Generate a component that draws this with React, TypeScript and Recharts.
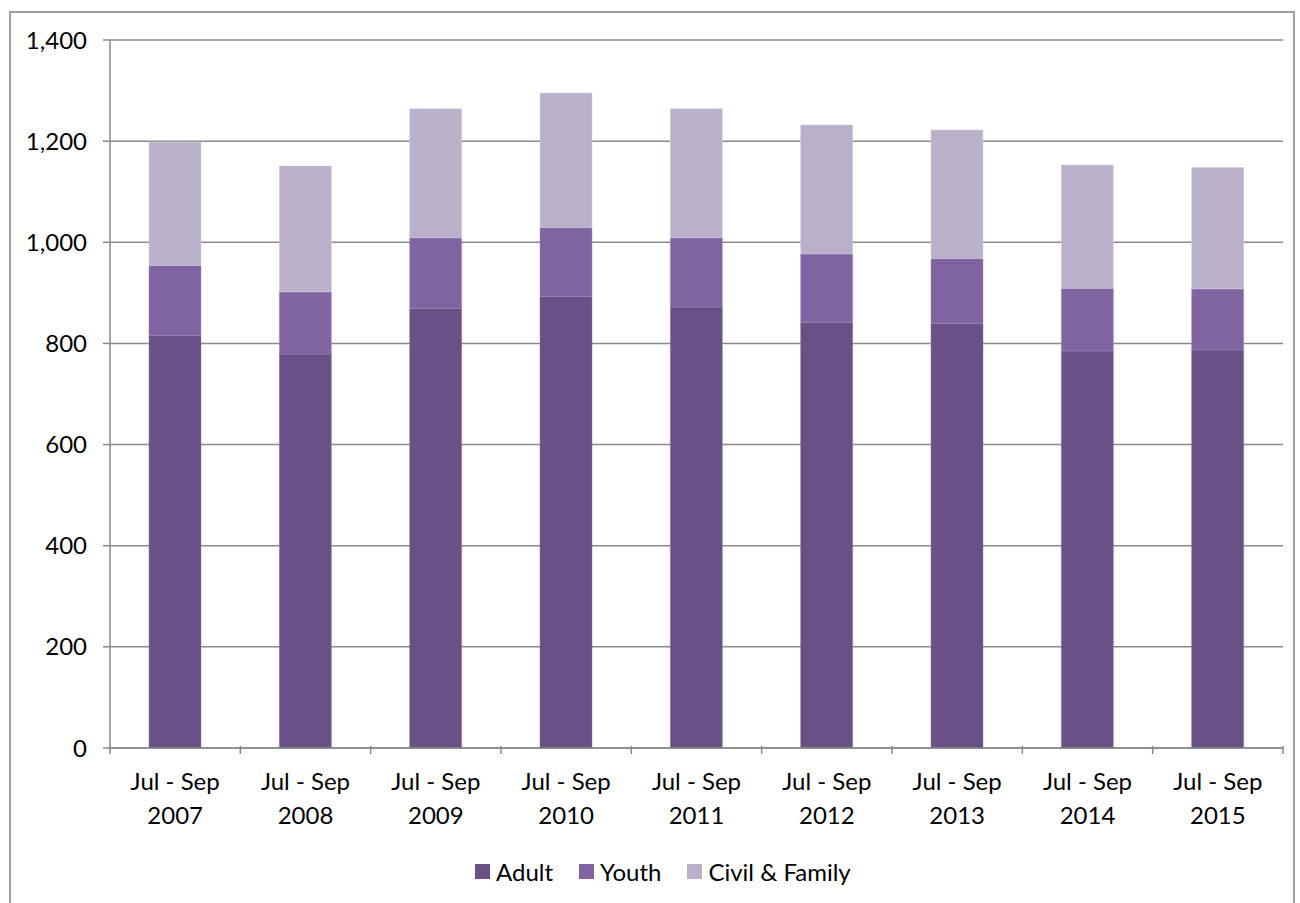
import React from "react";
import { BarChart, Bar, XAxis, YAxis, CartesianGrid, Legend } from "recharts";

const periods = ["Jul - Sep|2007", "Jul - Sep|2008", "Jul - Sep|2009", "Jul - Sep|2010", "Jul - Sep|2011", "Jul - Sep|2012", "Jul - Sep|2013", "Jul - Sep|2014", "Jul - Sep|2015"];
const adult = [816, 779, 869, 893, 872, 842, 840, 785, 787];
const youth = [138, 123, 140, 136, 137, 135, 128, 124, 121];
const civilFamily = [244, 249, 255, 266, 255, 255, 254, 244, 240];
const yTicks = [0, 200, 400, 600, 800, 1000, 1200, 1400];
const seriesNames = ["Adult", "Youth", "Civil & Family"];
const seriesColors = ["#6a5185", "#8064a2", "#bab0c9"];

const data = periods.map((p, i) => ({ period: p, adult: adult[i], youth: youth[i], civil: civilFamily[i] }));

const FONT = "Lato, 'Open Sans', sans-serif";
const FS = 24;
const W = 1300;
const H = 903;
const M = { top: 40, right: 17, left: 0, bottom: 0 };
const Y_W = 110;
const PLOT_W = W - M.left - M.right - Y_W;
const STEP = PLOT_W / periods.length;

const XTick = (props: any) => {
  const { x, y, payload, index } = props;
  const [l1, l2] = String(payload.value).split("|");
  const isLast = index === periods.length - 1;
  return (
    <g>
      <line x1={x - STEP / 2} x2={x - STEP / 2} y1={y - 10} y2={y - 2} stroke="#888" strokeWidth={1.5} />
      {isLast && <line x1={x + STEP / 2} x2={x + STEP / 2} y1={y - 10} y2={y - 2} stroke="#888" strokeWidth={1.5} />}
      <text x={x} y={y + 34} textAnchor="middle" fontFamily={FONT} fontSize={FS} fill="#000">{l1}</text>
      <text x={x} y={y + 68} textAnchor="middle" fontFamily={FONT} fontSize={FS} fill="#000">{l2}</text>
    </g>
  );
};

const LegendContent = () => (
  <div style={{ display: "flex", fontFamily: FONT, fontSize: FS, color: "#000", alignItems: "center", whiteSpace: "nowrap" }}>
    {seriesNames.map((name, i) => (
      <div key={i} style={{ display: "flex", alignItems: "center", marginRight: 26 }}>
        <span style={{ width: 15, height: 15, background: seriesColors[i], display: "inline-block", marginRight: 6 }} />
        <span>{name}</span>
      </div>
    ))}
  </div>
);

export default function App() {
  return (
    <div style={{ position: "relative", width: W, height: H, overflow: "hidden", background: "#fff" }}>
      <style>{`body{margin:0;overflow:hidden}`}</style>
      <div style={{ position: "absolute", left: 9, top: 11, width: 1286, height: 920, border: "2px solid #a0a0a0", boxSizing: "border-box" }} />
      <div style={{ position: "absolute", left: 0, top: 0 }}>
        <BarChart width={W} height={H} data={data} margin={M} barSize={52}>
          <CartesianGrid vertical={false} stroke="#8a8a8a" strokeWidth={1.5} />
          <XAxis dataKey="period" height={126} tick={<XTick />} tickLine={false} axisLine={{ stroke: "#888", strokeWidth: 1.5 }} interval={0} />
          <YAxis width={Y_W} domain={[0, 1400]} ticks={yTicks} interval={0}
            tickFormatter={(v: number) => v.toLocaleString("en-US")}
            tick={{ fontFamily: FONT, fontSize: FS, fill: "#000" }}
            tickSize={7} tickMargin={16} tickLine={{ stroke: "#888", strokeWidth: 1.5 }} axisLine={{ stroke: "#888", strokeWidth: 1.5 }} />
          <Legend content={<LegendContent />} wrapperStyle={{ left: 475, top: 857, width: "auto" }} />
          <Bar dataKey="adult" name={seriesNames[0]} stackId="a" fill={seriesColors[0]} stroke="#8a78a0" strokeWidth={0.5} isAnimationActive={false} />
          <Bar dataKey="youth" name={seriesNames[1]} stackId="a" fill={seriesColors[1]} stroke="#a08cbb" strokeWidth={0.5} isAnimationActive={false} />
          <Bar dataKey="civil" name={seriesNames[2]} stackId="a" fill={seriesColors[2]} stroke="#d6cfe0" strokeWidth={0.5} isAnimationActive={false} />
        </BarChart>
      </div>
    </div>
  );
}
